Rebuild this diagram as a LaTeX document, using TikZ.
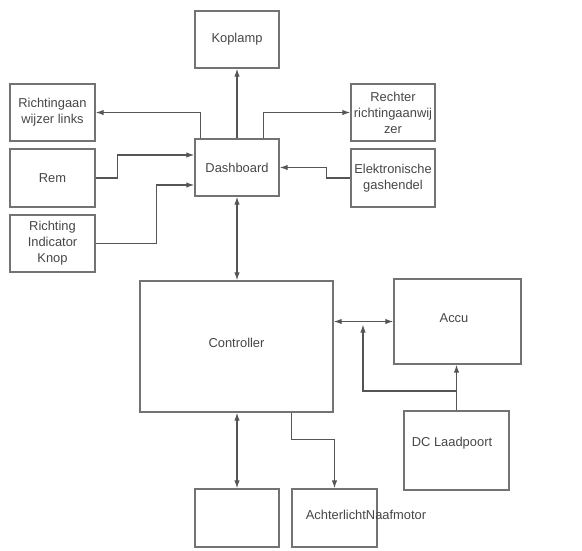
\documentclass[tikz,border=0pt]{standalone}
\usepackage{fontspec}
\setmainfont{Liberation Sans}
\usetikzlibrary{arrows.meta,calc}
\definecolor{ln}{RGB}{85,85,85}
\definecolor{bx}{RGB}{115,115,115}
\definecolor{tx}{RGB}{70,70,70}
\begin{document}
\begin{tikzpicture}[x=1pt,y=-1pt,
  box/.style={draw=bx,line width=1.4pt,inner sep=0pt,align=center,text=tx,
    font=\fontsize{12.9}{16}\selectfont},
  txt/.style={inner sep=0pt,text=tx,font=\fontsize{12.9}{16}\selectfont},
  arr/.style={draw=ln,line width=1.2pt,-{Latex[length=8pt,width=5.5pt]}},
  darr/.style={draw=ln,line width=1.2pt,{Latex[length=8pt,width=5.5pt]}-{Latex[length=8pt,width=5.5pt]}}]
\useasboundingbox (0,0) rectangle (582,550);
\node[box,minimum width=84pt,minimum height=57pt] (kop) at (237,39.5) {Koplamp};
\node[box,minimum width=85pt,minimum height=57pt] (rl) at (52.5,112.5) {Richtingaan\\wijzer links};
\node[box,minimum width=85pt,minimum height=58pt] (rem) at (52.5,178) {Rem};
\node[box,minimum width=85pt,minimum height=57pt] (knop) at (52.5,243.5) {Richting\\Indicator\\Knop};
\node[box,minimum width=84pt,minimum height=57pt] (dash) at (237,167.5) {Dashboard};
\node[box,minimum width=84pt,minimum height=57pt] (rr) at (393,112.5) {Rechter\\richtingaanwij\\zer};
\node[box,minimum width=84pt,minimum height=58pt] (ek) at (393,178) {Elektronische\\gashendel};
\node[box,minimum width=193pt,minimum height=131pt] (ctrl) at (236.5,346.5) {};
\node[txt] (ctrlt) at (236.5,343) {Controller};
\node[box,minimum width=127pt,minimum height=85pt] (acc) at (457.5,321.5) {};
\node[txt] (acct) at (454,318) {Accu};
\node[box,minimum width=105pt,minimum height=79pt] (dc) at (456.5,450.5) {};
\node[txt] (dct) at (452,443) {DC Laadpoort};
\node[box,minimum width=84pt,minimum height=58pt] (blank) at (237,518) {};
\node[box,minimum width=85pt,minimum height=58pt] (ach) at (334.5,518) {};
\node[txt] (acht) at (366,515) {AchterlichtNaafmotor};
\coordinate (j) at (363,391);
% connectors
\draw[arr] (dash.north) -- (kop.south);
\draw[arr] ($(dash.north west)+(6,0)$) |- (rl.east);
\draw[arr] ($(dash.north west)+(69,0)$) |- (rr.west);
\draw[arr] (rem.east) -- ++(22,0) |- ($(dash.west)+(0,-12.5)$);
\draw[arr] (knop.east) -- ++(61,0) |- ($(dash.west)+(0,17.5)$);
\draw[arr] (ek.west) -- ++(-24,0) |- (dash.east);
\draw[darr] (dash.south) -- (dash.south |- ctrl.north);
\draw[darr] (ctrl.east |- acc.west) -- (acc.west);
\draw[arr] (dc.north) -- (dc.north |- acc.south);
\draw[arr] (dc.north |- j) -- (j) -- ($(j |- acc.west)+(0,3)$);
\draw[darr] (blank.north |- ctrl.south) -- (blank.north);
\draw[arr] ($(ctrl.south west)+(152,0)$) -- ++(0,27) -| (ach.north);
\end{tikzpicture}
\end{document}
